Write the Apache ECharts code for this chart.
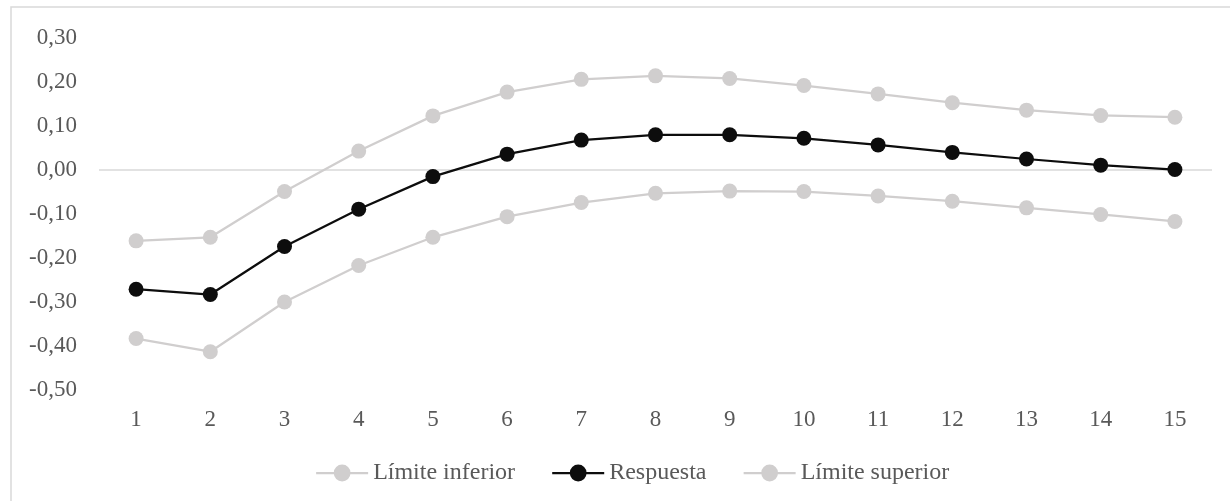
<!DOCTYPE html>
<html>
<head>
<meta charset="utf-8">
<script src="https://cdn.jsdelivr.net/npm/echarts@6/dist/echarts.min.js"></script>
<style>
  html, body { margin: 0; padding: 0; background: #ffffff; }
  #chart { width: 1230px; height: 501px; }
</style>
</head>
<body>
<div id="chart"></div>
<script>
const categories = ['1','2','3','4','5','6','7','8','9','10','11','12','13','14','15'];
const limiteInferior = [-0.383, -0.413, -0.300, -0.217, -0.153, -0.106, -0.074, -0.053, -0.048, -0.049, -0.059, -0.071, -0.086, -0.101, -0.117];
const respuesta = [-0.271, -0.283, -0.174, -0.089, -0.015, 0.036, 0.068, 0.080, 0.080, 0.072, 0.057, 0.040, 0.025, 0.011, 0.001];
const limiteSuperior = [-0.161, -0.153, -0.049, 0.043, 0.123, 0.177, 0.206, 0.214, 0.208, 0.192, 0.173, 0.153, 0.136, 0.124, 0.120];
const seriesNames = ['Límite inferior', 'Respuesta', 'Límite superior'];

const FONT = 'Liberation Serif';
const TXT = '#595959';
const GRAY = '#d0cece';
const BLACK = '#0d0d0d';

const chart = echarts.init(document.getElementById('chart'), null, { renderer: 'canvas' });
chart.setOption({
  animation: false,
  backgroundColor: '#ffffff',
  graphic: [{
    type: 'rect',
    shape: { x: 11, y: 7, width: 1260, height: 520 },
    style: { fill: 'none', stroke: '#d9d9d9', lineWidth: 1.5 },
    silent: true, z: -1
  }],
  grid: { left: 99, right: 18, top: 38, bottom: 111, containLabel: false },
  legend: {
    left: 315, top: 461, padding: 0,
    itemWidth: 52, itemHeight: 21, itemGap: 36,
    lineStyle: { width: 2.25 },
    textStyle: { fontFamily: FONT, fontSize: 24, color: TXT },
    data: seriesNames
  },
  xAxis: {
    type: 'category',
    data: categories,
    boundaryGap: true,
    axisLine: { show: false, onZero: false },
    axisTick: { show: false },
    axisLabel: { fontFamily: FONT, fontSize: 23, color: TXT, margin: 18 },
    splitLine: { show: false }
  },
  yAxis: {
    type: 'value',
    min: -0.5, max: 0.3, interval: 0.1,
    axisLine: { show: false },
    axisTick: { show: false },
    splitLine: { show: false },
    axisLabel: {
      fontFamily: FONT, fontSize: 23, color: TXT, margin: 22,
      formatter: v => v.toFixed(2).replace('.', ',')
    }
  },
  series: [
    {
      name: seriesNames[0], type: 'line', data: limiteInferior,
      symbol: 'circle', symbolSize: 15,
      itemStyle: { color: GRAY }, lineStyle: { color: GRAY, width: 2.25 },
      z: 2,
      markLine: {
        silent: true, symbol: ['none', 'none'], label: { show: false },
        lineStyle: { color: '#d9d9d9', width: 1.5, type: 'solid' },
        data: [{ yAxis: 0 }], z: 1
      }
    },
    {
      name: seriesNames[1], type: 'line', data: respuesta,
      symbol: 'circle', symbolSize: 15,
      itemStyle: { color: BLACK }, lineStyle: { color: BLACK, width: 2.25 },
      z: 4
    },
    {
      name: seriesNames[2], type: 'line', data: limiteSuperior,
      symbol: 'circle', symbolSize: 15,
      itemStyle: { color: GRAY }, lineStyle: { color: GRAY, width: 2.25 },
      z: 3
    }
  ]
});
</script>
</body>
</html>
